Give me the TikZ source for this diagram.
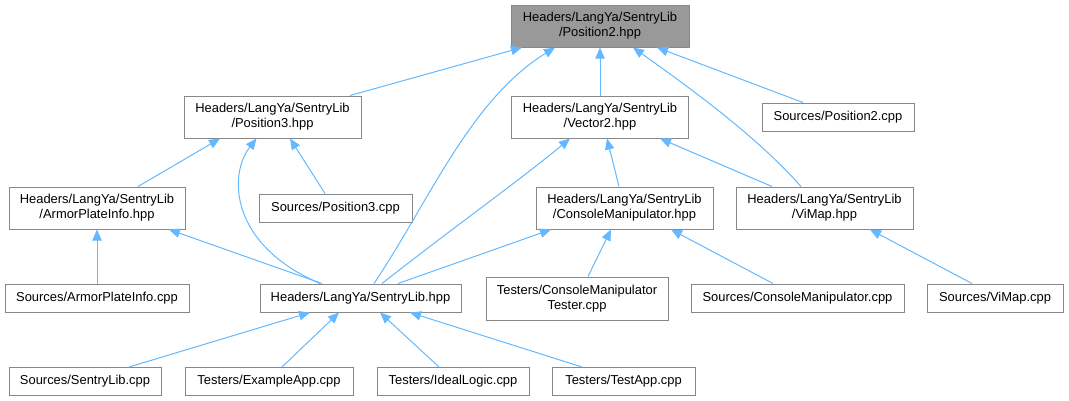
\documentclass[tikz,border=0pt]{standalone}
\usepackage{fontspec}
\setmainfont{Liberation Sans}
\usetikzlibrary{arrows.meta}
\definecolor{edgeblue}{HTML}{63B8FF}
\definecolor{boxborder}{HTML}{888888}
\definecolor{mainfill}{HTML}{999999}
\tikzset{
  box/.style 2 args={draw=boxborder, line width=0.75pt, fill=white, inner sep=0pt,
    align=center, minimum width=#1*0.75pt, minimum height=#2*0.75pt,
    font=\fontsize{9.7}{11.25}\selectfont},
  mainbox/.style={fill=mainfill},
  edge/.style={draw=edgeblue, line width=0.75pt, -{Triangle[length=8.25pt,width=7pt]}}
}
\begin{document}
\begin{tikzpicture}[x=0.75pt,y=-0.75pt]
\useasboundingbox (0,0) rectangle (1069,400);
% row 1
\node[box={178}{42},mainbox] (P2) at (600,26) {Headers/LangYa/SentryLib\\/Position2.hpp};
% row 2
\node[box={177}{42}] (P3) at (272.5,117) {Headers/LangYa/SentryLib\\/Position3.hpp};
\node[box={177}{42}] (V2) at (600,117) {Headers/LangYa/SentryLib\\/Vector2.hpp};
\node[box={152}{28}] (SP2) at (838,117) {Sources/Position2.cpp};
% row 3
\node[box={176}{42}] (APIh) at (97,208) {Headers/LangYa/SentryLib\\/ArmorPlateInfo.hpp};
\node[box={153}{28}] (SP3) at (335.5,208) {Sources/Position3.cpp};
\node[box={177}{42}] (CMh) at (624.5,208) {Headers/LangYa/SentryLib\\/ConsoleManipulator.hpp};
\node[box={177}{42}] (VMh) at (824.5,208) {Headers/LangYa/SentryLib\\/ViMap.hpp};
% row 4
\node[box={184}{28}] (SAPI) at (97,298) {Sources/ArmorPlateInfo.cpp};
\node[box={201}{28}] (SLh) at (360.5,298) {Headers/LangYa/SentryLib.hpp};
\node[box={182}{43}] (CMT) at (577,298.5) {Testers/ConsoleManipulator\\Tester.cpp};
\node[box={213}{28}] (SCM) at (797.5,298) {Sources/ConsoleManipulator.cpp};
\node[box={136}{28}] (SVM) at (995,298) {Sources/ViMap.cpp};
% row 5
\node[box={152}{28}] (SSL) at (85,381.5) {Sources/SentryLib.cpp};
\node[box={168}{28}] (EA) at (269,381.5) {Testers/ExampleApp.cpp};
\node[box={152}{28}] (IL) at (453,381.5) {Testers/IdealLogic.cpp};
\node[box={143}{28}] (TA) at (623.5,381.5) {Testers/TestApp.cpp};
% edges
\draw[edge] ([xshift=77.5*0.75pt]P3.north) -- ([xshift=-78*0.75pt]P2.south);
\draw[edge] ([xshift=13.5*0.75pt]SLh.north) .. controls (430,200) and (470,100) .. ([xshift=-45*0.75pt]P2.south);
\draw[edge] (V2.north) -- (P2.south);
\draw[edge] ([xshift=-23.5*0.75pt]VMh.north) .. controls (760,140) and (700,95) .. ([xshift=33*0.75pt]P2.south);
\draw[edge] ([xshift=-35*0.75pt]SP2.north) -- ([xshift=57*0.75pt]P2.south);
\draw[edge] ([xshift=41*0.75pt]APIh.north) -- ([xshift=-52.5*0.75pt]P3.south);
\draw[edge] ([xshift=-40.5*0.75pt]SLh.north) .. controls (230,245) and (228,175) .. ([xshift=-16*0.75pt]P3.south);
\draw[edge] ([xshift=-10.5*0.75pt]SP3.north) -- ([xshift=17.5*0.75pt]P3.south);
\draw[edge] ([xshift=-5.5*0.75pt]CMh.north) -- ([xshift=7*0.75pt]V2.south);
\draw[edge] ([xshift=21.5*0.75pt]SLh.north) .. controls (450,230) and (520,180) .. ([xshift=-30*0.75pt]V2.south);
\draw[edge] ([xshift=-52.5*0.75pt]VMh.north) -- ([xshift=60*0.75pt]V2.south);
\draw[edge] ([xshift=-38.5*0.75pt]SLh.north) -- ([xshift=72*0.75pt]APIh.south);
\draw[edge] ([xshift=37.5*0.75pt]SLh.north) -- ([xshift=-73.5*0.75pt]CMh.south);
\draw[edge] (SAPI.north) -- (APIh.south);
\draw[edge] ([xshift=11*0.75pt]CMT.north) -- ([xshift=-13.5*0.75pt]CMh.south);
\draw[edge] ([xshift=-24.5*0.75pt]SCM.north) -- ([xshift=46.5*0.75pt]CMh.south);
\draw[edge] ([xshift=-23*0.75pt]SVM.north) -- ([xshift=45.5*0.75pt]VMh.south);
\draw[edge] ([xshift=44*0.75pt]SSL.north) -- ([xshift=-50.5*0.75pt]SLh.south);
\draw[edge] ([xshift=13*0.75pt]EA.north) -- ([xshift=-21.5*0.75pt]SLh.south);
\draw[edge] ([xshift=-14*0.75pt]IL.north) -- ([xshift=19.5*0.75pt]SLh.south);
\draw[edge] ([xshift=-41.5*0.75pt]TA.north) -- ([xshift=49.5*0.75pt]SLh.south);
\end{tikzpicture}
\end{document}
